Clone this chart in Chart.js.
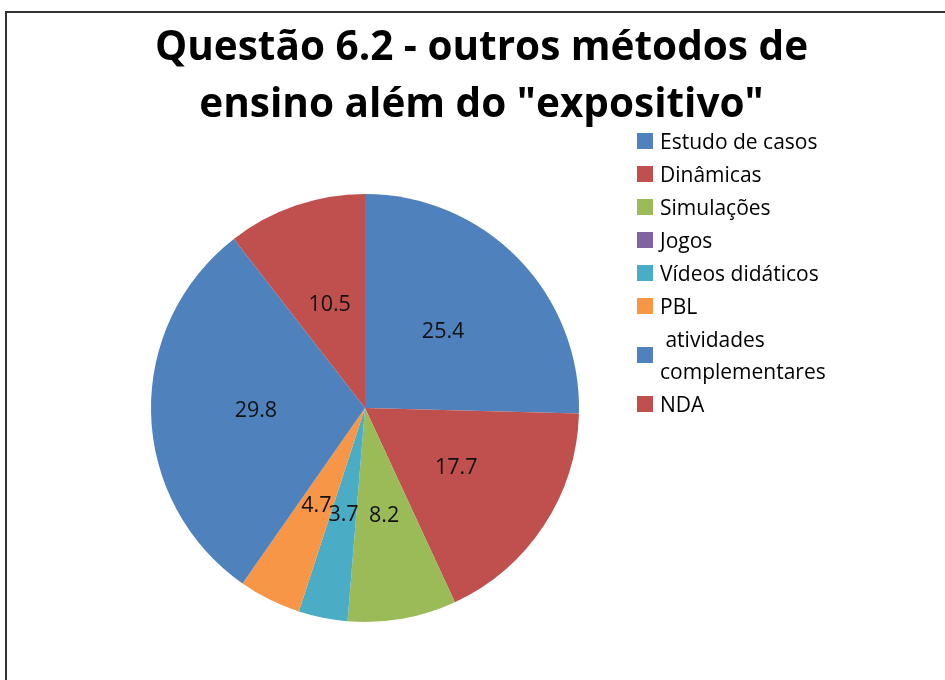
<!DOCTYPE html>
<html>
<head>
<meta charset="utf-8">
<script src="https://cdn.jsdelivr.net/npm/chart.js@4.4.0/dist/chart.umd.min.js"></script>
<style>
    body { margin: 0; background: #fff; }
    #wrap { position: relative; width: 945px; height: 680px; overflow: hidden; }
    #frame { position: absolute; left: 5px; top: 11px; width: 960px; height: 700px;
             border-left: 2px solid #333; border-top: 2px solid #333; }
    #chart { position: absolute; left: 0; top: 0; }
    #title { position: absolute; left: 0; width: 963px; top: 16px; text-align: center;
             font-family: 'Open Sans', sans-serif; font-weight: bold; font-size: 40.5px;
             line-height: 57px; color: #000; }
    #legend { position: absolute; left: 637px; top: 124px; font-family: 'Open Sans', sans-serif;
              font-size: 21px; color: #000; }
    .item { display: flex; align-items: center; height: 33px; }
    .item.two { height: 65px; }
    .box { width: 16px; height: 16px; margin-right: 7px; flex: none; }
    .txt { line-height: 32px; }
</style>
</head>
<body>
<div id="wrap">
    <div id="frame"></div>
    <canvas id="chart" width="945" height="680"></canvas>
    <div id="title">Questão 6.2 - outros métodos de<br>ensino além do "expositivo"</div>
    <div id="legend"></div>
</div>
<script>
// Dados do gráfico
const categories = ['Estudo de casos', 'Dinâmicas', 'Simulações', 'Jogos', 'Vídeos didáticos', 'PBL', ' atividades complementares', 'NDA'];
const values = [25.4, 17.7, 8.2, 0, 3.7, 4.7, 29.8, 10.5];
const colors = ['#4F81BD', '#C0504D', '#9BBB59', '#8064A2', '#4BACC6', '#F79646', '#4F81BD', '#C0504D'];

// Legenda em HTML
const legend = document.getElementById('legend');
categories.forEach((name, i) => {
    const row = document.createElement('div');
    row.className = 'item' + (name.length > 20 ? ' two' : '');
    const box = document.createElement('div');
    box.className = 'box';
    box.style.background = colors[i];
    const txt = document.createElement('div');
    txt.className = 'txt';
    txt.innerHTML = name.length > 20 ? '&nbsp;atividades<br>complementares' : name;
    row.appendChild(box);
    row.appendChild(txt);
    legend.appendChild(row);
});

// Plugin para rótulos dos valores
const valueLabels = {
    id: 'valueLabels',
    afterDatasetsDraw(chart) {
        const ctx = chart.ctx;
        const meta = chart.getDatasetMeta(0);
        ctx.save();
        ctx.font = '21.5px "Open Sans", sans-serif';
        ctx.fillStyle = '#111';
        ctx.textAlign = 'center';
        ctx.textBaseline = 'middle';
        meta.data.forEach((arc, i) => {
            if (!values[i]) return;
            const mid = (arc.startAngle + arc.endAngle) / 2;
            const r = arc.outerRadius * 0.51;
            ctx.fillText(values[i].toFixed(1), arc.x + Math.cos(mid) * r, arc.y + Math.sin(mid) * r);
        });
        ctx.restore();
    }
};

new Chart(document.getElementById('chart'), {
    type: 'pie',
    data: {
        labels: categories,
        datasets: [{
            data: values,
            backgroundColor: colors,
            borderWidth: 0
        }]
    },
    options: {
        responsive: false,
        animation: false,
        layout: { padding: { left: 151, right: 366, top: 194, bottom: 58 } },
        plugins: {
            legend: { display: false },
            tooltip: { enabled: false }
        }
    },
    plugins: [valueLabels]
});
</script>
</body>
</html>
